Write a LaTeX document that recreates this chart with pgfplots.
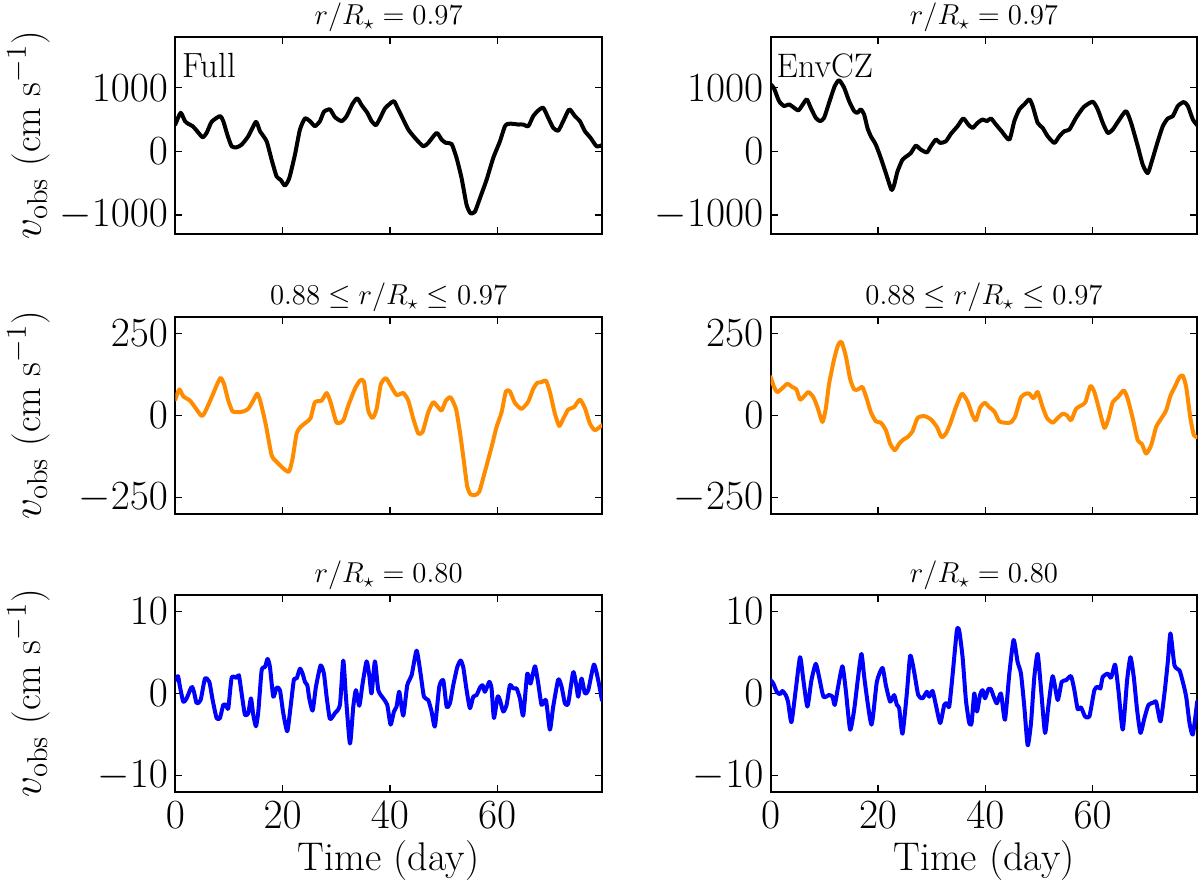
\documentclass[border=0pt]{standalone}
\usepackage{pgfplots}
\pgfplotsset{compat=1.18}
\definecolor{dorange}{HTML}{FF8C00}
\definecolor{pblue}{HTML}{0000FF}
\pgfplotsset{panel/.style={
  scale only axis, width=213.3pt, height=98.7pt,
  xmin=0, xmax=79.5, xtick={0,20,40,60},
  tick align=inside, xtick pos=both, ytick pos=both,
  xticklabel pos=lower, yticklabel pos=left,
  major tick length=3.5pt, every tick/.style={black, line width=0.65pt},
  axis line style={line width=0.85pt},
  tick label style={font=\fontsize{20.5}{24}\selectfont},
  yticklabel style={inner sep=0pt, xshift=-3.5pt},
  xticklabel style={anchor=base, inner sep=0pt, yshift=-18.2pt},
  every axis title shift=0pt,
  title style={font=\fontsize{14}{16}\selectfont, at={(axis description cs:0.5,1)}, anchor=base, yshift=5.9pt, inner sep=0pt},
  label style={font=\fontsize{20}{24}\selectfont},
  ylabel style={font=\fontsize{19.2}{23}\selectfont, at={(axis description cs:-0.343,0.5)}, anchor=center, inner sep=0pt},
  xlabel style={at={(axis description cs:0.5,0)}, anchor=base, yshift=-39.3pt, inner sep=0pt},
  scaled y ticks=false,
  /pgf/number format/1000 sep={},
  every axis plot/.append style={line width=2pt, line join=round, line cap=round, no markers, smooth, tension=0.35},
}}
\newcommand{\ylab}{$v_{\rm obs}$\ (cm s$^{-1}$)}
\begin{document}
\begin{tikzpicture}
\path[use as bounding box] (0,0) rectangle (600pt,-439.5pt);
% ---------- Row 1 left
\begin{axis}[panel, at={(87.65pt,-18.35pt)}, anchor=north west,
  ymin=-1300, ymax=1800, ytick={-1000,0,1000}, xticklabels={},
  title={$r/R_\star = 0.97$}, ylabel={\ylab}]
\addplot[black] table {
0 421
0.99 605
1.80 474
2.42 432
3.23 395
3.98 326
5.09 221
5.84 289
6.77 463
8.32 553
8.94 474
9.69 263
10.50 79
11.43 63
12.36 105
13.60 237
15.03 463
15.78 316
17.02 158
17.95 -132
18.88 -395
19.63 -447
20.43 -537
21.24 -421
22.30 -53
23.23 342
24.16 516
25.09 474
26.02 395
26.96 474
27.70 621
28.82 658
29.75 537
30.99 474
31.93 553
33.04 747
33.91 832
34.72 726
35.78 605
36.58 474
37.39 411
38.14 516
39.07 674
40.00 747
40.75 789
41.55 658
42.48 500
43.42 342
44.66 211
46.21 79
47.14 132
48.70 289
49.63 184
50.43 132
51.49 116
52.42 -105
53.35 -421
54.29 -842
55.03 -974
55.84 -947
56.77 -737
58.01 -447
59.25 -105
60.50 158
61.43 395
62.05 432
62.98 432
63.91 421
64.84 421
65.78 395
66.71 553
67.64 642
68.57 684
69.50 526
70.43 368
71.37 326
72.30 474
73.42 658
74.47 553
75.40 474
76.34 316
77.39 211
78.51 79
79.50 95
};
\node[anchor=base west, inner sep=0pt, font=\fontsize{17.5}{20}\selectfont] at (axis description cs:0,1) [xshift=3.2pt, yshift=-20.2pt] {Full};
\end{axis}
% ---------- Row 1 right
\begin{axis}[panel, at={(385.35pt,-18.35pt)}, anchor=north west,
  ymin=-1300, ymax=1800, ytick={-1000,0,1000}, xticklabels={},
  title={$r/R_\star = 0.97$}]
\addplot[black] table {
0 1053
0.62 989
1.55 789
2.49 711
3.42 737
4.35 684
5.16 642
5.91 726
6.72 816
7.46 684
8.40 526
9.20 474
9.95 526
10.88 763
11.94 1026
12.75 1116
13.68 1000
14.61 789
15.55 632
16.17 605
16.79 658
17.41 579
18.03 368
18.66 237
19.59 105
20.52 -105
21.46 -342
22.51 -605
23.01 -526
23.63 -316
24.56 -132
25.50 -68
26.12 -26
27.05 89
27.99 26
29.10 -16
29.85 79
30.78 184
31.59 132
32.65 158
33.58 274
34.83 395
35.88 516
36.82 421
37.62 368
38.56 447
39.49 500
40.30 474
41.04 516
41.98 421
43.03 316
44.47 184
45.40 474
46.33 658
47.26 737
48.20 816
48.82 711
49.75 447
50.68 368
51.62 237
52.86 132
53.79 237
54.73 316
55.66 342
56.90 526
58.33 695
60.01 779
60.95 658
61.88 447
62.81 289
63.74 342
64.99 500
66.23 632
67.16 447
68.41 79
69.34 -211
70.27 -342
71.21 -105
72.14 158
73.07 395
74.00 516
74.94 553
75.87 711
76.99 774
77.74 711
78.67 500
79.48 411
};
\node[anchor=base west, inner sep=0pt, font=\fontsize{17}{20}\selectfont] at (axis description cs:0,1) [xshift=2.8pt, yshift=-20.2pt] {EnvCZ};
\end{axis}
% ---------- Row 2 left
\begin{axis}[panel, at={(87.65pt,-158.35pt)}, anchor=north west,
  ymin=-300, ymax=300, ytick={-250,0,250}, xticklabels={},
  title={$0.88 \leq r/R_\star \leq 0.97$}, ylabel={\ylab}]
\addplot[dorange] table {
0 48
0.75 79
1.49 58
2.73 45
3.66 25
4.91 -2
5.53 10
6.77 55
7.83 96
8.45 114
9.07 96
9.88 45
10.68 12
11.74 10
12.67 12
13.60 20
14.53 45
15.28 66
15.90 40
16.89 -30
17.95 -121
18.88 -141
20.12 -161
21.18 -171
21.86 -131
22.61 -55
23.35 -35
24.47 -20
25.22 -8
26.02 40
27.27 45
28.20 68
28.94 40
30.06 -22
31.30 -15
32.24 30
33.48 81
34.41 106
35.16 103
35.96 15
36.77 -8
37.52 20
38.32 96
39.25 113
40.12 91
41.24 62
42.48 68
43.42 45
44.35 -10
45.28 -55
46.09 -50
47.14 10
48.07 40
48.82 28
49.63 15
50.43 45
51.30 55
52.30 20
53.04 -50
53.79 -141
54.41 -217
55.03 -240
55.84 -242
56.65 -232
57.70 -171
58.94 -96
59.88 -35
60.81 10
61.61 73
62.36 73
63.29 38
64.53 20
65.78 42
66.71 81
67.45 99
68.26 101
69.07 106
69.81 71
70.75 5
71.55 -32
72.30 -10
73.23 18
74.29 25
75.40 48
76.34 22
77.27 -25
78.20 -45
79.50 -30
};
\end{axis}
% ---------- Row 2 right
\begin{axis}[panel, at={(385.35pt,-158.35pt)}, anchor=north west,
  ymin=-300, ymax=300, ytick={-250,0,250}, xticklabels={},
  title={$0.88 \leq r/R_\star \leq 0.97$}]
\addplot[dorange] table {
0 116
0.62 86
1.24 71
2.18 83
3.11 96
4.04 86
4.79 79
5.47 48
6.22 58
7.03 71
7.96 55
8.71 25
9.64 -20
10.26 20
10.88 96
11.82 171
12.56 214
13.18 224
13.99 181
14.80 111
15.55 79
16.29 79
17.10 86
17.91 50
18.66 10
19.59 -18
20.52 -22
21.46 -45
22.26 -86
23.13 -106
23.94 -86
24.75 -73
25.50 -66
26.43 -48
27.36 -8
28.61 -2
29.85 -12
30.97 -35
31.84 -66
32.65 -55
33.46 -25
34.51 25
35.63 66
36.69 42
37.62 0
38.25 -15
39.05 25
39.93 38
40.73 25
41.67 12
42.60 -18
43.53 -22
44.65 -22
45.52 -5
46.64 55
47.57 66
48.20 66
49.00 52
49.75 71
50.68 25
51.49 -8
52.55 -22
53.48 -8
54.42 5
55.22 0
55.97 -15
56.90 20
57.84 30
58.64 40
59.58 89
60.32 71
61.26 15
62.19 -38
62.94 -10
63.74 40
64.68 55
65.80 76
66.54 50
67.48 -10
68.41 -76
69.15 -86
69.96 -116
70.90 -91
71.83 -35
72.76 -10
73.69 15
74.50 60
75.37 89
76.18 116
76.80 121
77.43 86
78.23 -10
78.86 -60
79.48 -66
};
\end{axis}
% ---------- Row 3 left
\begin{axis}[panel, at={(87.65pt,-297.35pt)}, anchor=north west,
  ymin=-12, ymax=12, ytick={-10,0,10},
  title={$r/R_\star = 0.80$}, ylabel={\ylab}, xlabel={Time (day)}]
\addplot[pblue] table {
0 1.6
0.50 2.1
0.87 0.8
1.49 -1.0
2.11 -0.6
3.04 0.8
3.48 0.2
3.98 -1.2
4.72 -0.8
5.53 1.8
6.34 1.4
6.96 -0.8
7.70 -3.0
8.32 -3.0
8.94 -1.4
9.44 -1.4
9.88 -1.8
10.50 1.9
11.43 1.9
11.86 2.2
12.36 0
12.98 -2.6
13.60 -2.4
14.10 -0.6
14.53 -2.6
15.03 -4.0
15.47 -2.2
16.09 2.8
16.71 3.2
17.20 4.2
17.64 3.2
18.26 -0.4
18.88 0.7
19.50 0.4
20.12 -2.4
20.87 -4.6
21.49 -1.6
22.11 1.7
22.61 1.8
23.23 3.0
23.73 2.4
24.16 1.4
24.60 1.0
24.97 -0.6
25.59 -2.1
26.21 0.8
27.08 3.4
27.70 2.4
28.20 -0.4
28.82 -3.1
29.75 -2.4
30.68 -1.4
31.30 4.0
31.80 -0.4
32.55 -6.1
33.17 -1.6
33.66 0.4
34.29 -1.5
34.91 1.2
35.65 3.9
36.15 2.2
36.58 0
37.20 3.9
37.83 0.4
38.76 -0.6
39.50 -1.4
40.12 -3.8
40.75 -2.2
41.24 -1.6
41.74 0.2
42.48 -2.7
43.23 1.0
44.04 2.2
44.97 5.2
45.71 2.4
46.34 -0.4
47.14 -0.8
47.76 -2.2
48.39 -4.0
49.19 0.8
49.94 1.6
50.56 -1.6
51.18 -1.2
51.80 1.0
52.55 3.2
53.17 4.0
53.66 3.2
54.29 0.4
54.91 -1.8
55.53 -0.4
56.15 -0.2
56.77 0.7
57.27 1.0
57.70 0.2
58.51 1.4
58.94 0.6
59.38 -3.0
60.06 -0.4
60.50 -0.8
61.12 -2.2
61.74 -1.4
62.36 1.0
62.98 0.6
63.60 0.6
64.22 -0.6
64.84 -2.7
65.59 2.4
66.21 1.2
67.02 3.3
67.64 1.2
68.26 -1.4
69.07 -0.8
69.81 -4.4
70.43 -1.6
71.37 1.7
71.99 0.8
72.61 -1.2
73.23 -1.2
74.16 2.6
74.78 0.8
75.09 -0.4
75.71 1.8
76.34 0
76.96 0.4
78.01 3.5
78.82 1.6
79.50 -0.8
};
\end{axis}
% ---------- Row 3 right
\begin{axis}[panel, at={(385.35pt,-297.35pt)}, anchor=north west,
  ymin=-12, ymax=12, ytick={-10,0,10},
  title={$r/R_\star = 0.80$}, xlabel={Time (day)}]
\addplot[pblue] table {
0 1.6
0.50 1.2
1.12 0.2
1.74 -0.1
2.18 0.3
2.80 -0.2
3.23 -1.0
3.86 -3.5
4.66 0.4
5.47 4.4
6.09 1.6
6.84 -1.6
7.59 1.6
8.40 3.6
9.02 2.0
9.83 -0.4
10.88 -0.2
11.51 -0.4
11.94 -1.4
12.56 0.8
13.37 3.3
13.99 0.4
14.80 -4.4
15.55 -2.0
16.29 2.0
16.92 4.8
17.54 1.4
18.78 -3.8
19.78 1.4
20.83 3.1
21.46 1.0
22.26 -1.0
23.01 -0.2
23.51 -1.4
23.94 -1.8
24.56 -4.9
25.37 0
26.00 4.6
26.74 2.6
27.49 -0.2
28.30 -0.6
29.10 0.2
29.54 -0.4
30.16 0.3
30.78 -1.4
31.59 -3.6
32.34 -1.4
32.84 -1.2
33.27 -1.6
33.89 2.2
34.70 7.7
35.14 7.6
35.76 4.4
36.38 -0.8
37.00 -3.6
37.44 -3.6
37.94 0
38.43 -2.2
39.05 -0.1
39.49 0.4
39.93 -0.6
40.55 0.5
41.04 0.5
41.67 -0.6
42.16 -1.2
42.91 0
43.66 -3.2
44.47 2.4
45.27 6.5
46.02 3.8
46.64 2.4
47.26 -1.6
47.89 -6.3
48.51 -3.6
49.13 2.0
49.75 4.8
50.37 0.6
51.12 -4.8
51.74 -1.6
52.55 2.1
53.48 -0.8
54.23 1.4
55.04 1.6
55.97 2.1
56.59 0.4
57.21 -1.9
57.84 -1.7
58.58 -2.8
59.39 -2.8
60.32 0.4
60.95 0.8
61.44 0.6
61.88 2.0
62.81 2.4
63.43 1.9
64.18 3.5
64.80 0.4
65.61 -4.4
66.42 1.6
67.04 4.4
67.66 2.0
68.28 -2.0
68.91 -4.8
69.65 -3.0
70.40 -1.4
71.39 -1.1
71.83 -1.0
72.64 -3.4
73.38 0
74.00 3.8
74.50 7.3
75.25 3.4
76.18 2.8
76.80 1.4
77.43 -0.4
78.05 -3.6
78.67 -5.0
79.48 -1.0
};
\end{axis}
\end{tikzpicture}
\end{document}
